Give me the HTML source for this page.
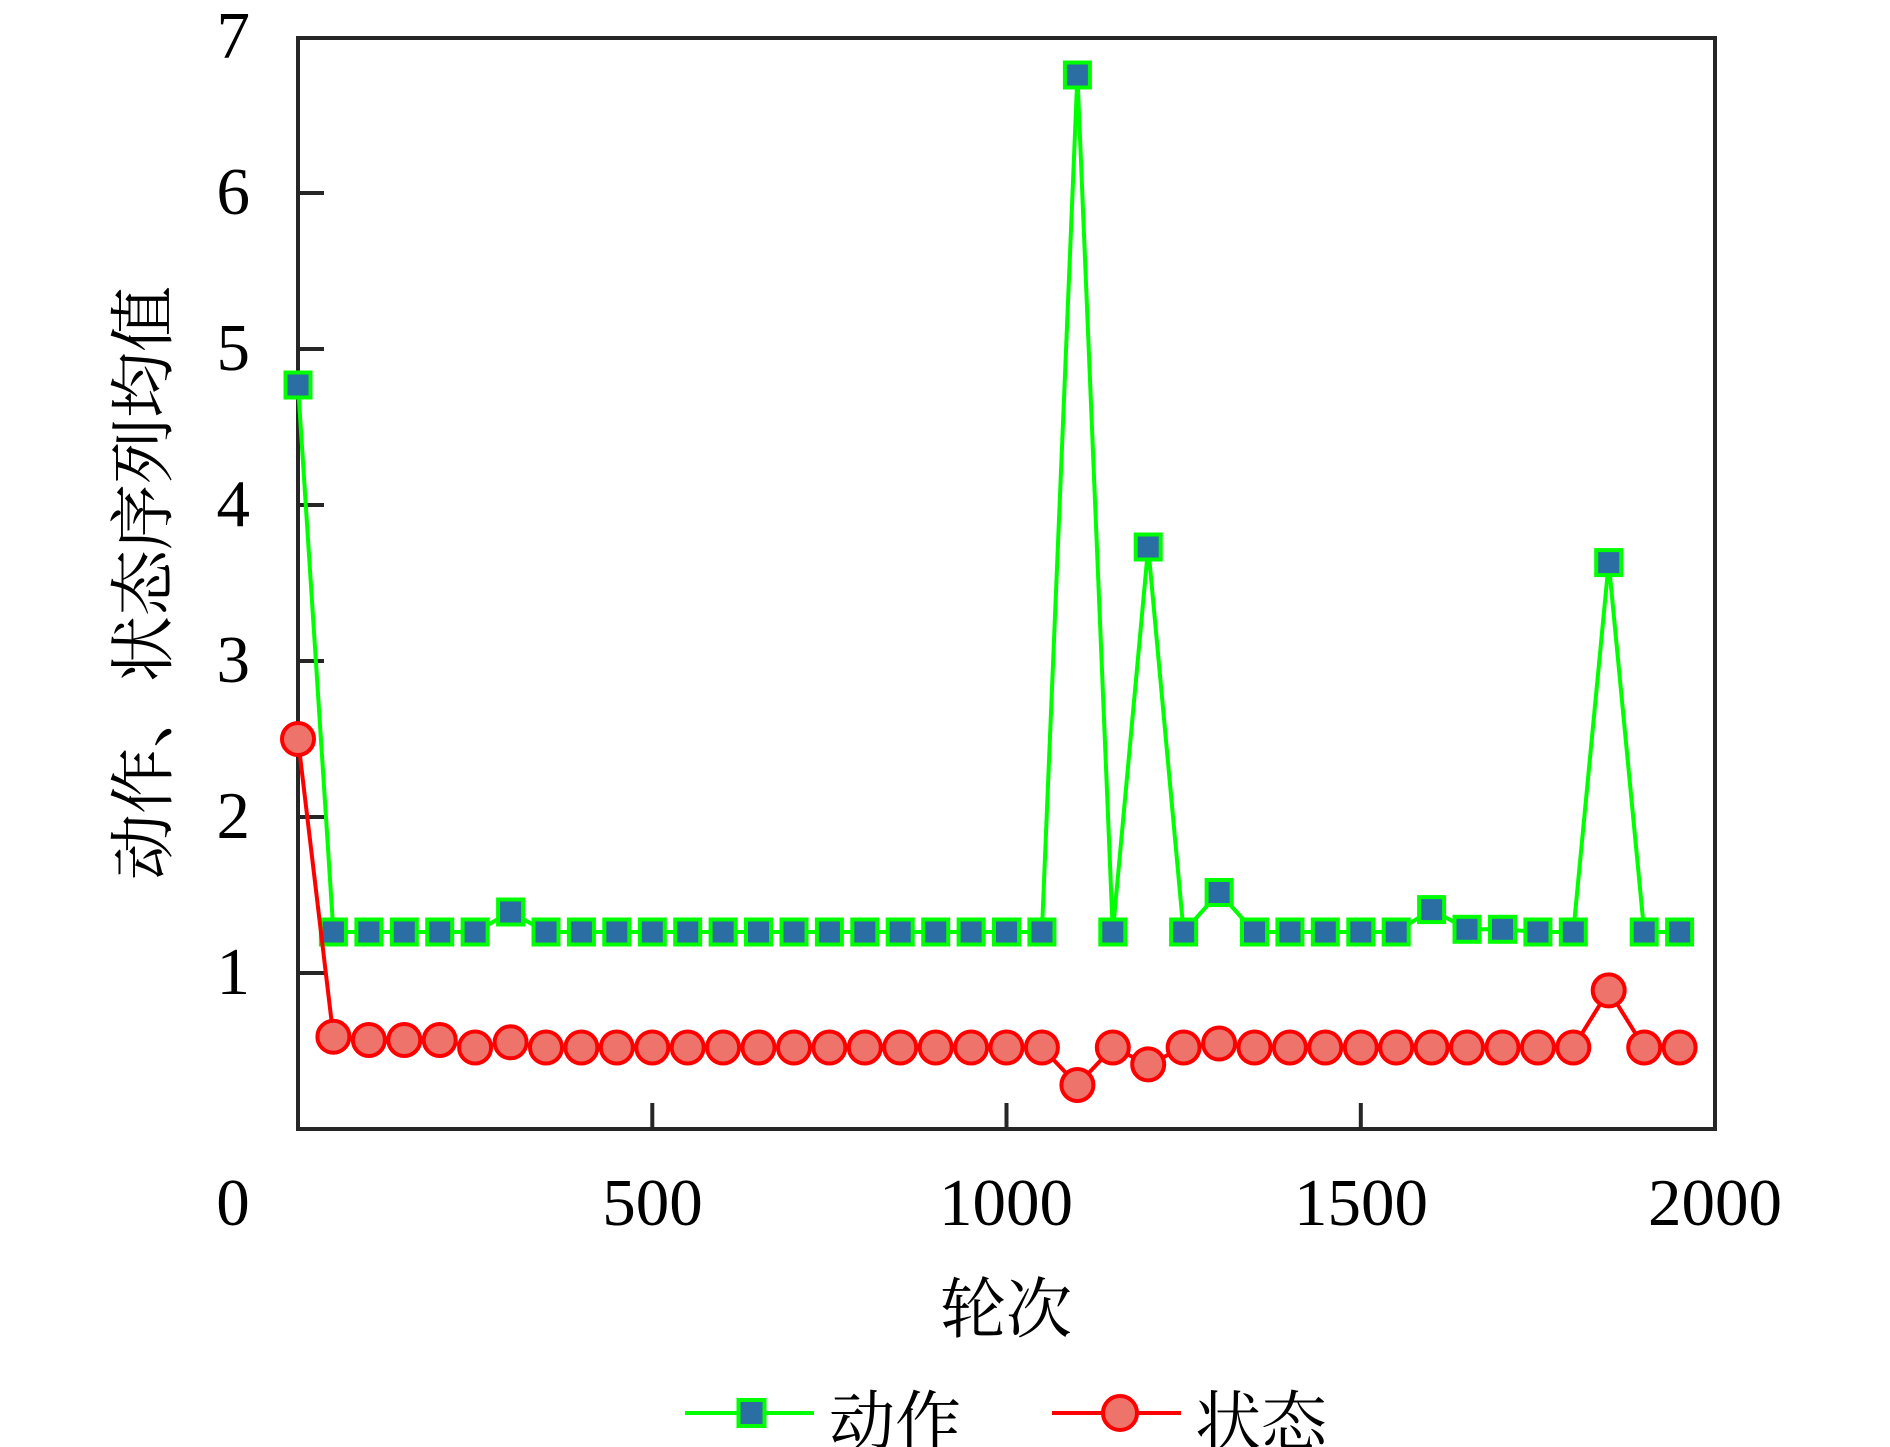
<!DOCTYPE html>
<html>
<head>
<meta charset="utf-8">
<style>
html,body{margin:0;padding:0;background:#fff;}
svg{display:block;}
</style>
</head>
<body>
<svg width="1890" height="1447" viewBox="0 0 1890 1447" xmlns="http://www.w3.org/2000/svg">
<rect x="0" y="0" width="1890" height="1447" fill="#fff"/>
<rect x="298" y="38" width="1417" height="1091" fill="none" stroke="#262626" stroke-width="4"/>
<g stroke="#262626" stroke-width="4">
<line x1="298" y1="973" x2="324" y2="973"/>
<line x1="298" y1="817" x2="324" y2="817"/>
<line x1="298" y1="661" x2="324" y2="661"/>
<line x1="298" y1="505" x2="324" y2="505"/>
<line x1="298" y1="349" x2="324" y2="349"/>
<line x1="298" y1="193" x2="324" y2="193"/>
<line x1="652.3" y1="1129" x2="652.3" y2="1103"/>
<line x1="1006.5" y1="1129" x2="1006.5" y2="1103"/>
<line x1="1360.8" y1="1129" x2="1360.8" y2="1103"/>
</g>
<g font-family="'Liberation Serif', serif" font-size="67" fill="#000" text-anchor="end">
<text x="250" y="58">7</text>
<text x="250" y="214">6</text>
<text x="250" y="370">5</text>
<text x="250" y="526">4</text>
<text x="250" y="682">3</text>
<text x="250" y="838">2</text>
<text x="250" y="994">1</text>
</g>
<g font-family="'Liberation Serif', serif" font-size="67" fill="#000" text-anchor="middle">
<text x="233" y="1225">0</text>
<text x="652.5" y="1225">500</text>
<text x="1006" y="1225">1000</text>
<text x="1361" y="1225">1500</text>
<text x="1715" y="1225">2000</text>
</g>
<text x="1006" y="1332" font-family="'Liberation Serif','Noto Serif CJK SC',serif" font-size="66" text-anchor="middle" fill="#000">轮次</text>
<g transform="translate(141,583) rotate(-90)">
<text x="0" y="25" font-family="'Liberation Serif','Noto Serif CJK SC',serif" font-size="66" text-anchor="middle" fill="#000">动作、状态序列均值</text>
</g>
<polyline fill="none" stroke="#00ff00" stroke-width="4" stroke-linejoin="round" points="298,385 333.4,932 368.9,932 404.3,932 439.7,932 475.1,932 510.6,912 546,932 581.4,932 616.8,932 652.3,932 687.7,932 723.1,932 758.5,932 794,932 829.4,932 864.8,932 900.2,932 935.7,932 971.1,932 1006.5,932 1041.9,932 1077.4,75 1112.8,932 1148.2,547 1183.6,932 1219.1,892.5 1254.5,932 1289.9,932 1325.3,932 1360.8,932 1396.2,932 1431.6,909.6 1467,929.3 1502.5,929.3 1537.9,932 1573.3,932 1608.7,562.6 1644.2,932 1679.6,932"/>
<g fill="#2a6ea3" stroke="#00ff00" stroke-width="4">
<rect x="285.5" y="372.5" width="25" height="25"/>
<rect x="320.9" y="919.5" width="25" height="25"/>
<rect x="356.4" y="919.5" width="25" height="25"/>
<rect x="391.8" y="919.5" width="25" height="25"/>
<rect x="427.2" y="919.5" width="25" height="25"/>
<rect x="462.6" y="919.5" width="25" height="25"/>
<rect x="498.1" y="899.5" width="25" height="25"/>
<rect x="533.5" y="919.5" width="25" height="25"/>
<rect x="568.9" y="919.5" width="25" height="25"/>
<rect x="604.3" y="919.5" width="25" height="25"/>
<rect x="639.8" y="919.5" width="25" height="25"/>
<rect x="675.2" y="919.5" width="25" height="25"/>
<rect x="710.6" y="919.5" width="25" height="25"/>
<rect x="746" y="919.5" width="25" height="25"/>
<rect x="781.5" y="919.5" width="25" height="25"/>
<rect x="816.9" y="919.5" width="25" height="25"/>
<rect x="852.3" y="919.5" width="25" height="25"/>
<rect x="887.7" y="919.5" width="25" height="25"/>
<rect x="923.2" y="919.5" width="25" height="25"/>
<rect x="958.6" y="919.5" width="25" height="25"/>
<rect x="994" y="919.5" width="25" height="25"/>
<rect x="1029.4" y="919.5" width="25" height="25"/>
<rect x="1064.9" y="62.5" width="25" height="25"/>
<rect x="1100.3" y="919.5" width="25" height="25"/>
<rect x="1135.7" y="534.5" width="25" height="25"/>
<rect x="1171.1" y="919.5" width="25" height="25"/>
<rect x="1206.6" y="880" width="25" height="25"/>
<rect x="1242" y="919.5" width="25" height="25"/>
<rect x="1277.4" y="919.5" width="25" height="25"/>
<rect x="1312.8" y="919.5" width="25" height="25"/>
<rect x="1348.3" y="919.5" width="25" height="25"/>
<rect x="1383.7" y="919.5" width="25" height="25"/>
<rect x="1419.1" y="897.1" width="25" height="25"/>
<rect x="1454.5" y="916.8" width="25" height="25"/>
<rect x="1490" y="916.8" width="25" height="25"/>
<rect x="1525.4" y="919.5" width="25" height="25"/>
<rect x="1560.8" y="919.5" width="25" height="25"/>
<rect x="1596.2" y="550.1" width="25" height="25"/>
<rect x="1631.7" y="919.5" width="25" height="25"/>
<rect x="1667.1" y="919.5" width="25" height="25"/>
</g>
<polyline fill="none" stroke="#ff0000" stroke-width="4" stroke-linejoin="round" points="298,739 333.4,1036.7 368.9,1040 404.3,1040 439.7,1040 475.1,1047.5 510.6,1042.3 546,1047.5 581.4,1047.5 616.8,1047.5 652.3,1047.5 687.7,1047.5 723.1,1047.5 758.5,1047.5 794,1047.5 829.4,1047.5 864.8,1047.5 900.2,1047.5 935.7,1047.5 971.1,1047.5 1006.5,1047.5 1041.9,1047.5 1077.4,1085 1112.8,1047.5 1148.2,1064.4 1183.6,1047.5 1219.1,1043.5 1254.5,1047.5 1289.9,1047.5 1325.3,1047.5 1360.8,1047.5 1396.2,1047.5 1431.6,1047.5 1467,1047.5 1502.5,1047.5 1537.9,1047.5 1573.3,1047.5 1608.7,990.4 1644.2,1047.5 1679.6,1047.5"/>
<g fill="#ee746b" stroke="#ff0000" stroke-width="4">
<circle cx="298" cy="739" r="16"/>
<circle cx="333.4" cy="1036.7" r="16"/>
<circle cx="368.9" cy="1040" r="16"/>
<circle cx="404.3" cy="1040" r="16"/>
<circle cx="439.7" cy="1040" r="16"/>
<circle cx="475.1" cy="1047.5" r="16"/>
<circle cx="510.6" cy="1042.3" r="16"/>
<circle cx="546" cy="1047.5" r="16"/>
<circle cx="581.4" cy="1047.5" r="16"/>
<circle cx="616.8" cy="1047.5" r="16"/>
<circle cx="652.3" cy="1047.5" r="16"/>
<circle cx="687.7" cy="1047.5" r="16"/>
<circle cx="723.1" cy="1047.5" r="16"/>
<circle cx="758.5" cy="1047.5" r="16"/>
<circle cx="794" cy="1047.5" r="16"/>
<circle cx="829.4" cy="1047.5" r="16"/>
<circle cx="864.8" cy="1047.5" r="16"/>
<circle cx="900.2" cy="1047.5" r="16"/>
<circle cx="935.7" cy="1047.5" r="16"/>
<circle cx="971.1" cy="1047.5" r="16"/>
<circle cx="1006.5" cy="1047.5" r="16"/>
<circle cx="1041.9" cy="1047.5" r="16"/>
<circle cx="1077.4" cy="1085" r="16"/>
<circle cx="1112.8" cy="1047.5" r="16"/>
<circle cx="1148.2" cy="1064.4" r="16"/>
<circle cx="1183.6" cy="1047.5" r="16"/>
<circle cx="1219.1" cy="1043.5" r="16"/>
<circle cx="1254.5" cy="1047.5" r="16"/>
<circle cx="1289.9" cy="1047.5" r="16"/>
<circle cx="1325.3" cy="1047.5" r="16"/>
<circle cx="1360.8" cy="1047.5" r="16"/>
<circle cx="1396.2" cy="1047.5" r="16"/>
<circle cx="1431.6" cy="1047.5" r="16"/>
<circle cx="1467" cy="1047.5" r="16"/>
<circle cx="1502.5" cy="1047.5" r="16"/>
<circle cx="1537.9" cy="1047.5" r="16"/>
<circle cx="1573.3" cy="1047.5" r="16"/>
<circle cx="1608.7" cy="990.4" r="16"/>
<circle cx="1644.2" cy="1047.5" r="16"/>
<circle cx="1679.6" cy="1047.5" r="16"/>
</g>
<line x1="685" y1="1413" x2="814" y2="1413" stroke="#00ff00" stroke-width="4"/>
<rect x="738.5" y="1400" width="26" height="26" fill="#2a6ea3" stroke="#00ff00" stroke-width="4"/>
<text x="829" y="1445" font-family="'Liberation Serif','Noto Serif CJK SC',serif" font-size="66" fill="#000">动作</text>
<line x1="1052" y1="1413" x2="1181" y2="1413" stroke="#ff0000" stroke-width="4"/>
<circle cx="1120" cy="1413" r="17" fill="#ee746b" stroke="#ff0000" stroke-width="4"/>
<text x="1195" y="1445" font-family="'Liberation Serif','Noto Serif CJK SC',serif" font-size="66" fill="#000">状态</text>
</svg>
</body>
</html>
